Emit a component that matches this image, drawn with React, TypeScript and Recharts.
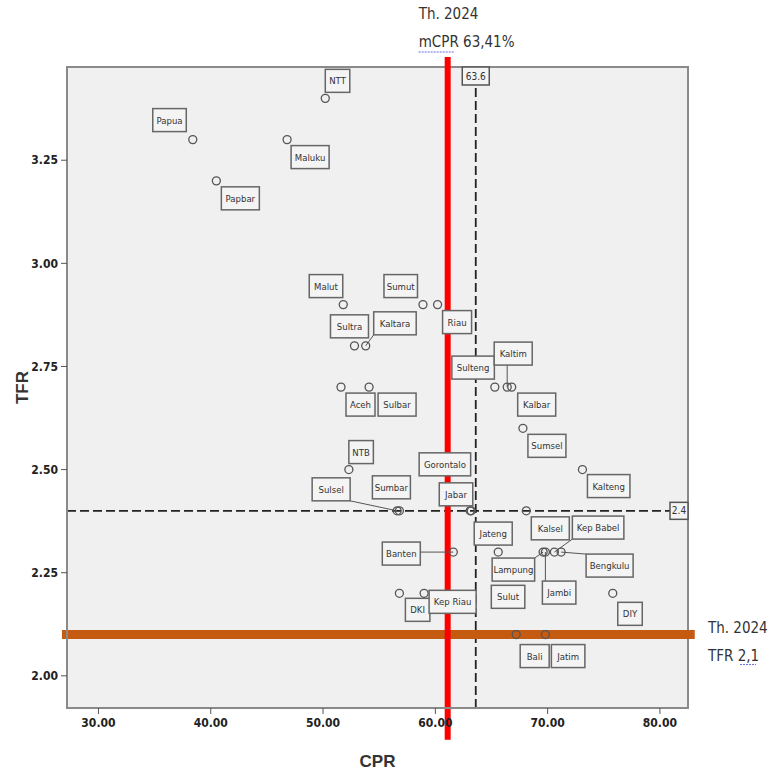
import React from 'react';
import { ScatterChart, Scatter, XAxis, YAxis, ReferenceLine, ReferenceArea } from 'recharts';

// provinces, CPR (x) and TFR (y)
const provinces = [
  'NTT', 'Papua', 'Maluku', 'Papbar', 'Malut', 'Sumut', 'Riau', 'Sultra', 'Kaltara',
  'Aceh', 'Sulbar', 'Sulteng', 'Kaltim', 'Kalbar', 'Sumsel', 'Kalteng', 'NTB',
  'Gorontalo', 'Sulsel', 'Sumbar', 'Jabar', 'Kalsel', 'Jateng', 'Lampung', 'Jambi',
  'Kep Babel', 'Bengkulu', 'Banten', 'DKI', 'Kep Riau', 'Sulut', 'DIY', 'Bali', 'Jatim',
];
const cprValues = [
  50.2, 38.4, 46.8, 40.5, 51.8, 58.9, 60.2, 52.8, 53.8,
  51.6, 54.1, 65.3, 66.4, 66.8, 67.8, 73.1, 52.3,
  63.1, 56.6, 56.8, 63.2, 68.1, 65.6, 69.6, 69.8,
  70.6, 71.2, 61.6, 56.8, 59.0, 67.3, 75.8, 67.2, 69.8,
];
const tfrValues = [
  3.4, 3.3, 3.3, 3.2, 2.9, 2.9, 2.9, 2.8, 2.8,
  2.7, 2.7, 2.7, 2.7, 2.7, 2.6, 2.5, 2.5,
  2.4, 2.4, 2.4, 2.4, 2.4, 2.3, 2.3, 2.3,
  2.3, 2.3, 2.3, 2.2, 2.2, 2.2, 2.2, 2.1, 2.1,
];
const xTicks = [30, 40, 50, 60, 70, 80];
const yTicks = [2.0, 2.25, 2.5, 2.75, 3.0, 3.25];
const cprMean = 63.6;
const tfrMean = 2.4;
const mcprLine = 61.1; // where the red line is drawn
const tfrTarget = 2.1;

const data = provinces.map((name, i) => ({ name, cpr: cprValues[i], tfr: tfrValues[i] }));

const X_DOMAIN: [number, number] = [27.2, 82.5];
const Y_DOMAIN: [number, number] = [1.922, 3.476];

const NARROW = "'Liberation Sans Narrow', 'DejaVu Sans Condensed', 'Arial Narrow', sans-serif";
const SANS = "'Liberation Sans', Arial, sans-serif";

// label box offset from the point (px) and whether a leader line is drawn
const labelPos: Record<string, [number, number, boolean]> = {
  NTT: [0, -29, false], Papua: [-40, -31, false], Maluku: [4, 6, false], Papbar: [5, 6, false],
  Malut: [-34, -30, false], Sumut: [-39, -30, false], Riau: [5, 6, false],
  Sultra: [-24, -31, false], Kaltara: [8, -34, true], Aceh: [5, 6, false], Sulbar: [9, 6, false],
  Sulteng: [-43, -31, false], Kaltim: [-13, -45, true], Kalbar: [6, 6, false],
  Sumsel: [5, 6, false], Kalteng: [5, 5, false], NTB: [0, -29, false],
  Gorontalo: [-51, -58, false], Sulsel: [-85, -33, true], Sumbar: [-27, -35, false],
  Jabar: [-32, -28, false], Kalsel: [5, 6, false], Jateng: [-24, -30, false],
  Lampung: [-51, 6, true], Jambi: [-3, 29, true], 'Kep Babel': [18, -36, true],
  Bengkulu: [25, 2, true], Banten: [-71, -10, true], DKI: [6, 5, false],
  'Kep Riau': [5, -3, false], Sulut: [-26, -8, false], DIY: [5, 9, false],
  Bali: [4, 10, false], Jatim: [6, 10, false],
};

const PointMark = (props: any) => {
  const { cx, cy, payload } = props;
  const [dx, dy, leader] = labelPos[payload.name] ?? [5, 6, false];
  const w = payload.name.length * 4.5 + 11;
  const h = 23;
  const bx = cx + dx;
  const by = cy + dy;
  const nx = Math.max(bx, Math.min(cx, bx + w));
  const ny = Math.max(by, Math.min(cy, by + h));
  return (
    <g>
      {leader && <line x1={cx} y1={cy} x2={nx} y2={ny} stroke="#555" strokeWidth={1} />}
      <circle cx={cx} cy={cy} r={4} fill="none" stroke="#555" strokeWidth={1.3} />
      <rect x={bx} y={by} width={w} height={h} fill="#f4f4f4" stroke="#666" strokeWidth={1.5} />
      <text x={bx + w / 2} y={by + h / 2} textAnchor="middle" dominantBaseline="central"
        fontSize={9.5} fill="#333" fontFamily={NARROW}>{payload.name}</text>
    </g>
  );
};

const tickStyle = { fontSize: 12, fontWeight: 'bold' as const, fill: '#222', fontFamily: NARROW };

export default function App() {
  return (
    <div style={{ position: 'absolute', left: 0, top: 0, width: 771, height: 771, background: '#fff' }}>
      <ScatterChart width={771} height={771} margin={{ top: 67, right: 83, bottom: 0, left: 0 }}>
        <ReferenceArea x1={X_DOMAIN[0]} x2={X_DOMAIN[1]} y1={Y_DOMAIN[0]} y2={Y_DOMAIN[1]}
          fill="#f0f0f0" fillOpacity={1} stroke="#8a8a8a" strokeWidth={2} />
        <XAxis type="number" dataKey="cpr" domain={X_DOMAIN} ticks={xTicks} height={63}
          tickFormatter={(v: number) => v.toFixed(2)} tick={tickStyle}
          axisLine={{ stroke: '#8a8a8a', strokeWidth: 2 }} tickLine={{ stroke: '#555' }}
          tickSize={6} tickMargin={4}
          label={{ value: 'CPR', position: 'insideBottom', offset: 4, fontSize: 17, fontWeight: 'bold', fill: '#333', fontFamily: SANS }} />
        <YAxis type="number" dataKey="tfr" domain={Y_DOMAIN} ticks={yTicks} width={67}
          tickFormatter={(v: number) => v.toFixed(2)} tick={tickStyle}
          axisLine={{ stroke: '#8a8a8a', strokeWidth: 2 }} tickLine={{ stroke: '#555' }}
          tickSize={6} tickMargin={3}
          label={{
            content: (p: any) => {
              const vb = p.viewBox;
              const x = vb.x + 22;
              const y = vb.y + vb.height / 2;
              return (
                <text x={x} y={y} transform={`rotate(-90 ${x} ${y})`} textAnchor="middle"
                  dominantBaseline="central" fontSize={17} fontWeight="bold" fill="#333" fontFamily={SANS}>TFR</text>
              );
            },
          }} />
        <Scatter data={data} isAnimationActive={false} shape={(p: any) => <PointMark {...p} />} />
        <ReferenceLine x={cprMean} stroke="#222" strokeWidth={1.8} strokeDasharray="9 4"
          label={{
            content: (p: any) => {
              const vb = p.viewBox;
              return (
                <g>
                  <rect x={vb.x - 13.5} y={vb.y} width={27} height={18} fill="#f4f4f4" stroke="#555" strokeWidth={1.5} />
                  <text x={vb.x} y={vb.y + 9} textAnchor="middle" dominantBaseline="central" fontSize={10} fill="#333" fontFamily={NARROW}>63.6</text>
                </g>
              );
            },
          }} />
        <ReferenceLine y={tfrMean} stroke="#222" strokeWidth={1.8} strokeDasharray="9 4"
          label={{
            content: (p: any) => {
              const vb = p.viewBox;
              const r = vb.x + vb.width;
              return (
                <g>
                  <rect x={r - 18} y={vb.y - 8.5} width={18} height={17} fill="#f4f4f4" stroke="#555" strokeWidth={1.5} />
                  <text x={r - 9} y={vb.y} textAnchor="middle" dominantBaseline="central" fontSize={10} fill="#333" fontFamily={NARROW}>2.4</text>
                </g>
              );
            },
          }} />
        <ReferenceLine segment={[{ x: 26.75, y: tfrTarget }, { x: 83.1, y: tfrTarget }]}
          ifOverflow="visible" stroke="#c55a11" strokeWidth={9} />
        <ReferenceLine y={tfrTarget} stroke="none"
          label={{
            content: (p: any) => {
              const vb = p.viewBox;
              const x = vb.x + vb.width + 20;
              return (
                <g fontFamily={NARROW} fontSize={15} fill="#333">
                  <text x={x} y={vb.y - 7} dominantBaseline="central">Th. 2024</text>
                  <text x={x} y={vb.y + 21} dominantBaseline="central">TFR 2,1</text>
                  <line x1={x + 32} x2={x + 48} y1={vb.y + 30} y2={vb.y + 30} stroke="#6a6ae0" strokeWidth={1} strokeDasharray="2 1" />
                </g>
              );
            },
          }} />
        <ReferenceLine segment={[{ x: mcprLine, y: 1.845 }, { x: mcprLine, y: 3.5 }]}
          ifOverflow="visible" stroke="#ff0000" strokeWidth={6} />
        <ReferenceLine x={mcprLine} stroke="none"
          label={{
            content: (p: any) => {
              const vb = p.viewBox;
              const x = vb.x - 29;
              return (
                <g fontFamily={NARROW} fontSize={15} fill="#333">
                  <text x={x} y={vb.y - 53} dominantBaseline="central">Th. 2024</text>
                  <text x={x} y={vb.y - 25} dominantBaseline="central">mCPR 63,41%</text>
                  <line x1={x} x2={x + 36} y1={vb.y - 15} y2={vb.y - 15} stroke="#6a6ae0" strokeWidth={1} strokeDasharray="2 1" />
                </g>
              );
            },
          }} />
      </ScatterChart>
    </div>
  );
}
